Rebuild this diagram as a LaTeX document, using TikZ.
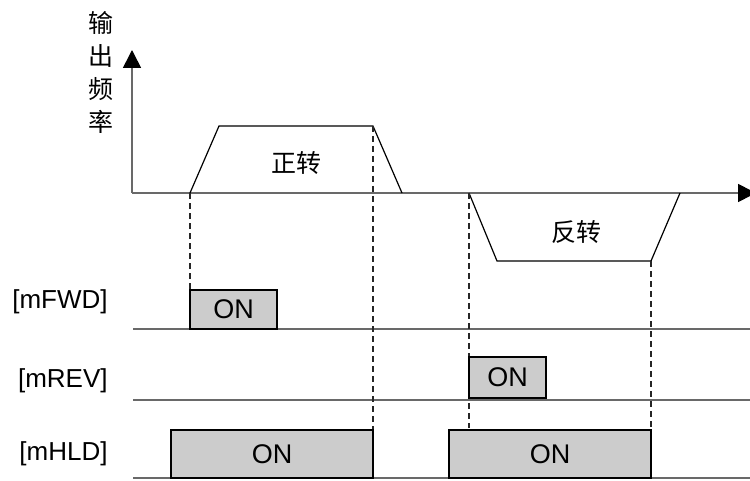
\documentclass[tikz,border=0pt]{standalone}
\usepackage{fontspec}
\setmainfont{Liberation Sans}
\newfontfamily\cjk{Noto Sans CJK SC}
\usepackage{tikz}
\usetikzlibrary{arrows.meta, fit}
\definecolor{axisgray}{RGB}{105, 105, 105}
\definecolor{onfill}{RGB}{204, 204, 204}

\begin{document}
\begin{tikzpicture}[
  x=0.5pt, y=-0.5pt,
  axis/.style={draw=axisgray, line width=0.8pt,
               -{Triangle[length=9pt, width=9pt, color=black]}},
  baseline/.style={draw=axisgray, line width=0.6pt},
  ramp/.style={draw=black, line width=0.6pt},
  guide/.style={draw=black!85, line width=0.55pt, dash pattern=on 3pt off 2pt},
  onbox/.style={draw=black, fill=onfill, line width=1.1pt, inner sep=0pt},
  ontext/.style={font=\fontsize{13.5}{16}\selectfont},
  sig/.style={anchor=east, inner sep=0pt, font=\fontsize{13}{15}\selectfont},
  dir/.style={font=\cjk\fontsize{12.5}{14}\selectfont}
]
\useasboundingbox (0,0) rectangle (750,481);

% axes
\coordinate (o) at (132,193);
\coordinate (ytip) at (132,50);
\coordinate (xtip) at (756,193);
\draw[axis] (o) -- (ytip);
\draw[axis] (o) -- (xtip);
\node[align=center, font=\cjk\fontsize{12.5}{16.5}\selectfont] (ylab) at (101,72) {输\\出\\频\\率};

% forward / reverse ramps
\coordinate (f1) at (190,193);
\coordinate (f2) at (219,126);
\coordinate (f3) at (373,126);
\coordinate (f4) at (402,193);
\coordinate (r1) at (469,193);
\coordinate (r2) at (497,261);
\coordinate (r3) at (651,261);
\coordinate (r4) at (680,193);
\draw[ramp] (f1) -- (f2) -- (f3) -- (f4);
\draw[ramp] (r1) -- (r2) -- (r3) -- (r4);
\node[dir] (fwdtxt) at (296,163) {正转};
\node[dir] (revtxt) at (576,232) {反转};

% signal rows
\coordinate (fwdl) at (133,329);  \coordinate (fwdr) at (750,329);
\coordinate (revl) at (133,400);  \coordinate (revr) at (750,400);
\coordinate (hldl) at (133,478);  \coordinate (hldr) at (750,478);
\draw[baseline] (fwdl) -- (fwdr);
\draw[baseline] (revl) -- (revr);
\draw[baseline] (hldl) -- (hldr);
\node[sig] (fwdlab) at (108,302) {[mFWD]};
\node[sig] (revlab) at (108,381) {[mREV]};
\node[sig] (hldlab) at (108,454) {[mHLD]};

% guides
\coordinate (g3) at (469,428);
\draw[guide] (f1) -- (190,290);
\draw[guide] (f3) -- (373,430);
\draw[guide] (r1) -- (g3);
\draw[guide] (r3) -- (651,430);

% ON pulses
\node[onbox, fit={(190,290) (277,329)}, label={[ontext]center:ON}] (fwdon) {};
\node[onbox, fit={(469,357) (546,398)}, label={[ontext]center:ON}] (revon) {};
\node[onbox, fit={(171,430) (373,478)}, label={[ontext]center:ON}] (hldon1) {};
\node[onbox, fit={(449,430) (651,478)}, label={[ontext]center:ON}] (hldon2) {};

\end{tikzpicture}
\end{document}
